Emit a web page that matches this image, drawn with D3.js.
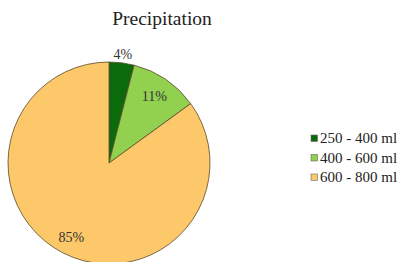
<!DOCTYPE html>
<html>
<head>
<script src="https://cdnjs.cloudflare.com/ajax/libs/d3/7.8.5/d3.min.js"></script>
<style>
html, body { margin: 0; background: #fff; }
svg { display: block; }
</style>
</head>
<body>
<svg width="399" height="262"></svg>
<script>
var categories = ["250 - 400 ml", "400 - 600 ml", "600 - 800 ml"];
var values = [4, 11, 85];
var labels = ["4%", "11%", "85%"];
var colors = ["#0b6b0b", "#92d050", "#fdc86a"];
var serif = "'Times New Roman', Times, 'Liberation Serif', Tinos, 'DejaVu Serif', serif";

var svg = d3.select("svg");

svg.append("text")
    .attr("x", 162).attr("y", 25)
    .attr("text-anchor", "middle")
    .attr("font-family", serif)
    .attr("font-size", 19.5)
    .style("fill", "#222")
    .text("Precipitation");

var pie = d3.pie().sort(null).value(function(d){ return d; });
var arcs = pie(values);
var r = 101;
var arc = d3.arc().innerRadius(0).outerRadius(r);

var g = svg.append("g").attr("transform", "translate(109,163)");

g.selectAll("path")
    .data(arcs)
    .enter()
    .append("path")
    .attr("d", arc)
    .style("fill", function(d, i){ return colors[i]; })
    .style("stroke", "#5a4a2a")
    .style("stroke-width", 0.8);

// label radius per slice (4% sits just outside the rim)
var labelR = [r * 1.09, r * 0.8, r * 0.82];
g.selectAll(".lbl")
    .data(arcs)
    .enter()
    .append("text")
    .attr("class", "lbl")
    .attr("transform", function(d, i){
        var c = d3.arc().innerRadius(labelR[i]).outerRadius(labelR[i]).centroid(d);
        return "translate(" + c + ")";
    })
    .attr("text-anchor", "middle")
    .attr("dy", "0.35em")
    .attr("font-family", serif)
    .attr("font-size", 14)
    .style("fill", "#333")
    .text(function(d, i){ return labels[i]; });

var legend = svg.append("g").attr("transform", "translate(311,135)");
var row = legend.selectAll("g")
    .data(categories)
    .enter()
    .append("g")
    .attr("transform", function(d, i){ return "translate(0," + (i * 19.5) + ")"; });

row.append("rect")
    .attr("width", 6.5).attr("height", 6.5)
    .style("fill", function(d, i){ return colors[i]; })
    .style("stroke", "#666")
    .style("stroke-width", 0.6);

row.append("text")
    .attr("x", 9).attr("y", 8)
    .attr("font-family", serif)
    .attr("font-size", 15)
    .style("fill", "#222")
    .text(function(d){ return d; });
</script>
</body>
</html>
